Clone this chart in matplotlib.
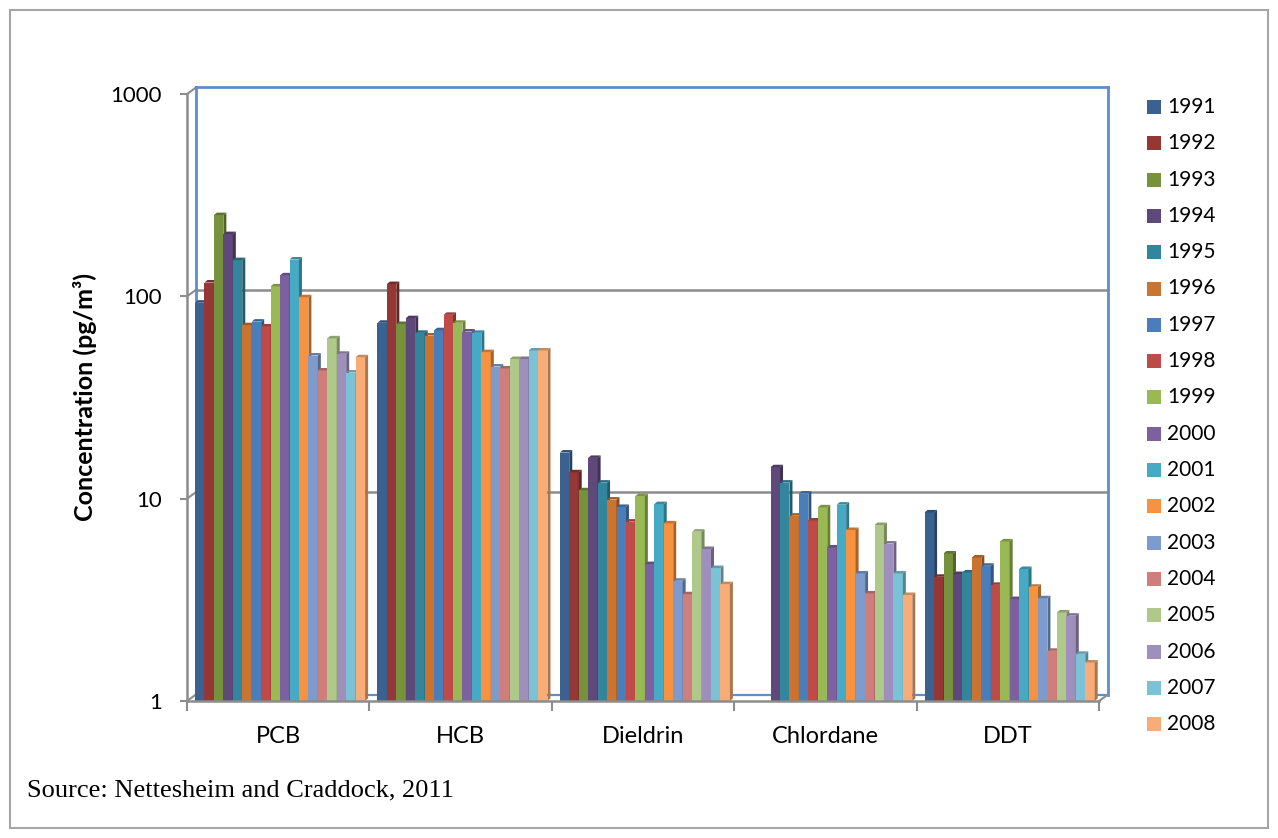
import numpy as np
import matplotlib
matplotlib.use("Agg")
import matplotlib.pyplot as plt
from matplotlib.patches import Polygon, Rectangle
from matplotlib.colors import to_rgb
from matplotlib.ticker import NullLocator, FixedLocator, NullFormatter

# ---- data -----------------------------------------------------------------
compounds = ["PCB", "HCB", "Dieldrin", "Chlordane", "DDT"]
years = [str(y) for y in range(1991, 2009)]

pcb = [93, 117, 252, 203, 151, 72, 75, 71, 112, 127, 152, 99, 51, 43, 62, 52, 42, 50]
hcb = [74, 115, 73, 78, 66, 64, 68, 81, 74, 67, 66, 53, 45, 44, 49, 49, 54, 54]
dieldrin = [16.9, 13.5, 11.0, 15.9, 12.0, 9.9, 9.1, 7.7, 10.3, 4.75, 9.4, 7.55,
            3.93, 3.37, 6.87, 5.64, 4.54, 3.78]
chlordane = [np.nan, np.nan, np.nan, 14.3, 12.0, 8.24, 10.6, 7.8, 9.06, 5.74, 9.34,
             7.0, 4.27, 3.4, 7.41, 6.0, 4.27, 3.34]
ddt = [8.55, 4.11, 5.36, 4.24, 4.32, 5.12, 4.66, 3.75, 6.15, 3.19, 4.49, 3.67,
       3.22, 1.77, 2.74, 2.64, 1.71, 1.55]

series = np.array([pcb, hcb, dieldrin, chlordane, ddt], dtype=float).T  # (year, compound)

colors = ["#3A6190", "#953735", "#76923C", "#5F497A", "#31859C", "#CB7330",
          "#4A7EBB", "#BE4B48", "#98B954", "#7D60A0", "#46AAC5", "#F69240",
          "#7D9CCD", "#D07E7C", "#AFC98A", "#9F8FBD", "#7BC2D6", "#F9AD76"]

# ---- figure ---------------------------------------------------------------
W_PX, H_PX = 1278, 838
fig = plt.figure(figsize=(W_PX / 100, H_PX / 100), dpi=100)
fig.patch.set_facecolor("white")

FONT = ["Lato", "DejaVu Sans"]

# front frame of the plot, in pixels
left, right, top, bottom = 187, 1099, 94, 701
ax = fig.add_axes([left / W_PX, 1 - bottom / H_PX,
                   (right - left) / W_PX, (bottom - top) / H_PX])
ax.set_yscale("log")
ax.set_ylim(1, 1000)
ax.set_xlim(-0.5, 4.5)
ax.patch.set_alpha(0)
for s in ax.spines.values():
    s.set_visible(False)

px_x = (right - left) / 5.0          # pixels per category
px_dec = (bottom - top) / 3.0        # pixels per decade

# depth of the back wall and of each bar
BX, BY = 9 / px_x, 10 ** (6.5 / px_dec)
DX, DY = 3 / px_x, 10 ** (2.5 / px_dec)

grid_c = "#8C8C8C"
wall_c = "#5F8DC8"
x0, x1 = -0.5, 4.5

# back wall, floor and gridlines
for v in [10, 100]:
    ax.plot([x0 + BX, x1 + BX], [v * BY, v * BY], color=grid_c, lw=1.8,
            zorder=1, clip_on=False, solid_capstyle="butt")
for v in [1, 10, 100, 1000]:
    ax.plot([x0, x0 + BX], [v, v * BY], color=grid_c, lw=1.5, zorder=1,
            clip_on=False)
ax.plot([x0 + BX, x1 + BX], [1000 * BY, 1000 * BY], color=wall_c, lw=2.0,
        zorder=1, clip_on=False)
ax.plot([x0 + BX, x0 + BX], [BY, 1000 * BY], color=wall_c, lw=2.0,
        zorder=1, clip_on=False)
ax.plot([x1 + BX, x1 + BX], [BY, 1000 * BY], color=wall_c, lw=2.0,
        zorder=1, clip_on=False)
ax.plot([x0 + BX, x1 + BX], [BY, BY], color=wall_c, lw=1.6, zorder=1,
        clip_on=False)
ax.plot([x1, x1 + BX], [1, BY], color=grid_c, lw=1.5, zorder=1, clip_on=False)
# front axis lines
ax.plot([x0, x0], [1, 1000], color=grid_c, lw=1.8, zorder=1, clip_on=False)
ax.plot([x0, x1], [1, 1], color=grid_c, lw=1.8, zorder=6, clip_on=False)


def shade(c, f):
    r, g, b = to_rgb(c)
    return (r * f, g * f, b * f)


# bars with side and top faces
W = 0.0518
X0 = -0.456
cat = np.arange(len(compounds))
for i, yr in enumerate(years):
    xs = cat + X0 + i * W
    vals = series[i]
    ok = ~np.isnan(vals)
    ax.bar(xs[ok], vals[ok] - 1, bottom=1, width=W, align="edge",
           color=colors[i], linewidth=0, zorder=3)
    for x, v in zip(xs[ok], vals[ok]):
        side = Polygon([(x + W, 1), (x + W + DX, DY), (x + W + DX, v * DY), (x + W, v)],
                       closed=True, facecolor=shade(colors[i], 0.68),
                       edgecolor="none", zorder=3)
        topf = Polygon([(x, v), (x + DX, v * DY), (x + W + DX, v * DY), (x + W, v)],
                       closed=True, facecolor=shade(colors[i], 0.8),
                       edgecolor="none", zorder=3)
        ax.add_patch(side)
        ax.add_patch(topf)

# ticks
ax.yaxis.set_major_locator(FixedLocator([1, 10, 100, 1000]))
ax.yaxis.set_minor_locator(NullLocator())
ax.set_yticklabels(["1", "10", "100", "1000"])
ax.tick_params(axis="y", which="major", length=5, width=1.5, color=grid_c,
               pad=13, labelsize=16)
ax.xaxis.set_major_locator(FixedLocator(np.arange(-0.5, 5.0, 1.0)))
ax.xaxis.set_major_formatter(NullFormatter())
ax.xaxis.set_minor_locator(FixedLocator(cat))
ax.set_xticklabels(compounds, minor=True)
ax.tick_params(axis="x", which="major", length=7, width=1.5, color=grid_c)
ax.tick_params(axis="x", which="minor", length=0, pad=18, labelsize=17)
for lab in ax.get_xticklabels(minor=True) + ax.get_yticklabels():
    lab.set_fontfamily(FONT)

# axis title
fig.text(85 / W_PX, 1 - 397 / H_PX, "Concentration (pg/m³)", rotation=90,
         ha="center", va="center", fontsize=18, fontweight="bold",
         family=FONT)

# legend
for i, yr in enumerate(years):
    yc = 107 + i * 36.3
    fig.add_artist(Rectangle((1147 / W_PX, 1 - (yc + 7) / H_PX), 14 / W_PX, 14 / H_PX,
                             transform=fig.transFigure, facecolor=colors[i],
                             edgecolor="none"))
    fig.text(1167 / W_PX, 1 - yc / H_PX, yr, ha="left", va="center",
             fontsize=15, family=FONT)

# source note
fig.text(27 / W_PX, 1 - 790 / H_PX, "Source: Nettesheim and Craddock, 2011",
         ha="left", va="center", fontsize=19, family=["Liberation Serif"])

# outer frame
fig.add_artist(Rectangle((10 / W_PX, 10 / H_PX), 1258 / W_PX, 818 / H_PX,
                         transform=fig.transFigure, facecolor="none",
                         edgecolor="#A6A6A6", lw=1.5))

fig.savefig("out.png", dpi=100, facecolor="white")
